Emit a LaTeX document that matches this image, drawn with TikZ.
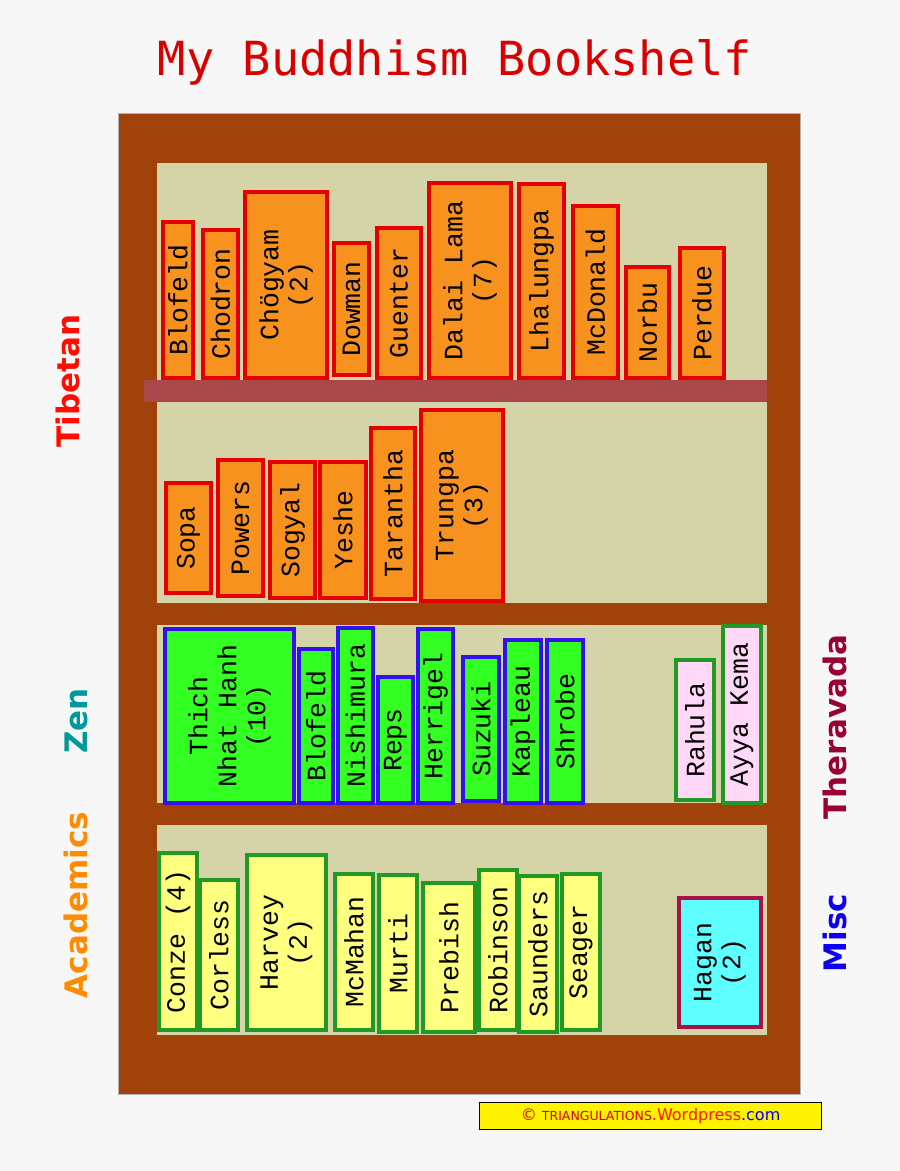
\documentclass[tikz,border=0pt]{standalone}
\usepackage{fontspec}
\setmainfont{DejaVu Sans}
\newfontfamily\bookfont{Liberation Mono}
\newfontfamily\titlefont{DejaVu Sans Mono}
\newfontfamily\labfont{DejaVu Sans}
\definecolor{bg}{HTML}{F7F7F7}
\definecolor{wood}{HTML}{A0420A}
\definecolor{panel}{HTML}{D4D4A8}
\definecolor{plank}{HTML}{A84848}
\definecolor{tibfill}{HTML}{F8921E}
\definecolor{zenfill}{HTML}{33FF22}
\definecolor{zenline}{HTML}{3311EE}
\definecolor{thfill}{HTML}{FFD8F8}
\definecolor{gline}{HTML}{229922}
\definecolor{acfill}{HTML}{FFFF80}
\definecolor{mline}{HTML}{AA1144}
\definecolor{mfill}{HTML}{60FFFF}
\tikzset{
  bookbase/.style={draw,line width=3.2pt,inner sep=0,outer sep=0},
  tib/.style={bookbase,fill=tibfill,draw=red!90!black},
  zen/.style={bookbase,fill=zenfill,draw=zenline},
  thr/.style={bookbase,fill=thfill,draw=gline},
  aca/.style={bookbase,fill=acfill,draw=gline},
  misc/.style={bookbase,fill=mfill,draw=mline},
  btxt/.style={font=\bookfont\fontsize{26.5}{29}\selectfont,rotate=90,align=center,inner sep=0},
  side/.style={font=\labfont\bfseries\fontsize{31}{34}\selectfont,rotate=90,inner sep=0}
}
\newcommand\bk[7]{\pgfmathsetmacro\bw{#3-#1}\pgfmathsetmacro\bh{#4-#2}%
  \node[#5,minimum width=\bw pt,minimum height=\bh pt,anchor=north west] (#6) at (#1,#2) {};%
  \node[btxt] at (#6.center) {#7};}
\begin{document}
\begin{tikzpicture}[x=1pt,y=-1pt]
\useasboundingbox[fill=bg] (0,0) rectangle (900,1171);
\node[font=\titlefont\fontsize{47}{50}\selectfont,text=red!85!black] (title) at (455,62) {My Buddhism Bookshelf};
\node[draw=white!70!black,line width=0.8pt,fill=wood,minimum width=682pt,minimum height=981pt,anchor=north west,inner sep=0] (case) at (118,113) {};
\fill[panel] (157,163) rectangle (767,603);
\fill[panel] (157,625) rectangle (767,803);
\fill[panel] (157,825) rectangle (767,1035);
\fill[plank] (144,380) rectangle (767,402);
% Tibetan top
\bk{163}{222}{193}{378}{tib}{b1}{Blofeld}
\bk{203}{230}{238}{378}{tib}{b2}{Chodron}
\bk{245}{192}{327}{378}{tib}{b3}{Chögyam\\(2)}
\bk{334}{243}{369}{375}{tib}{b4}{Dowman}
\bk{377}{228}{421}{378}{tib}{b5}{Guenter}
\bk{429}{183}{511}{378}{tib}{b6}{Dalai Lama\\(7)}
\bk{519}{184}{564}{378}{tib}{b7}{Lhalungpa}
\bk{573}{206}{618}{378}{tib}{b8}{McDonald}
\bk{626}{267}{669}{378}{tib}{b9}{Norbu}
\bk{680}{248}{724}{378}{tib}{b10}{Perdue}
% Tibetan second
\bk{166}{483}{211}{593}{tib}{c1}{Sopa}
\bk{218}{460}{263}{596}{tib}{c2}{Powers}
\bk{270}{462}{315}{598}{tib}{c3}{Sogyal}
\bk{320}{462}{366}{598}{tib}{c4}{Yeshe}
\bk{371}{428}{415}{599}{tib}{c5}{Tarantha}
\bk{421}{410}{503}{601}{tib}{c6}{Trungpa\\(3)}
% Zen
\bk{165}{629}{294}{803}{zen}{z1}{Thich\\Nhat Hanh\\(10)}
\bk{299}{649}{333}{803}{zen}{z2}{Blofeld}
\bk{338}{628}{373}{803}{zen}{z3}{Nishimura}
\bk{378}{677}{413}{803}{zen}{z4}{Reps}
\bk{418}{629}{453}{803}{zen}{z5}{Herrigel}
\bk{463}{657}{499}{801}{zen}{z6}{Suzuki}
\bk{505}{640}{541}{803}{zen}{z7}{Kapleau}
\bk{547}{640}{583}{803}{zen}{z8}{Shrobe}
\bk{676}{660}{714}{800}{thr}{t1}{Rahula}
\bk{723}{626}{761}{803}{thr}{t2}{Ayya Kema}
% Academics
\bk{159}{853}{197}{1030}{aca}{a1}{Conze (4)}
\bk{200}{880}{238}{1030}{aca}{a2}{Corless}
\bk{247}{855}{326}{1030}{aca}{a3}{Harvey\\(2)}
\bk{335}{874}{373}{1030}{aca}{a4}{McMahan}
\bk{379}{875}{417}{1032}{aca}{a5}{Murti}
\bk{423}{883}{475}{1032}{aca}{a6}{Prebish}
\bk{479}{870}{517}{1030}{aca}{a7}{Robinson}
\bk{519}{876}{557}{1032}{aca}{a8}{Saunders}
\bk{562}{874}{600}{1030}{aca}{a9}{Seager}
\bk{679}{898}{761}{1027}{misc}{m1}{Hagan\\(2)}
% side labels
\node[side,text=red!90!orange] (lt) at (68,381) {Tibetan};
\node[side,text=teal!80!cyan] (lz) at (76,721) {Zen};
\node[side,text=orange!90!yellow] (la) at (76,905) {Academics};
\node[side,text=purple!80!black] (lth) at (835,727) {Theravada};
\node[side,text=blue!90!violet] (lm) at (835,933) {Misc};
% credit
\node[draw=black,line width=1.2pt,fill=yellow,minimum width=342pt,minimum height=27pt,anchor=north west,inner sep=0] (cr) at (479,1102) {};
\node[font=\fontsize{16}{17}\selectfont,inner sep=0] at (cr.center) {\textcolor{red!85!black}{© {\fontsize{12.5}{14}\selectfont TRIANGULATIONS}}\textcolor{red!80!orange}{.Wordpress}\textcolor{blue}{.com}};
\end{tikzpicture}
\end{document}
